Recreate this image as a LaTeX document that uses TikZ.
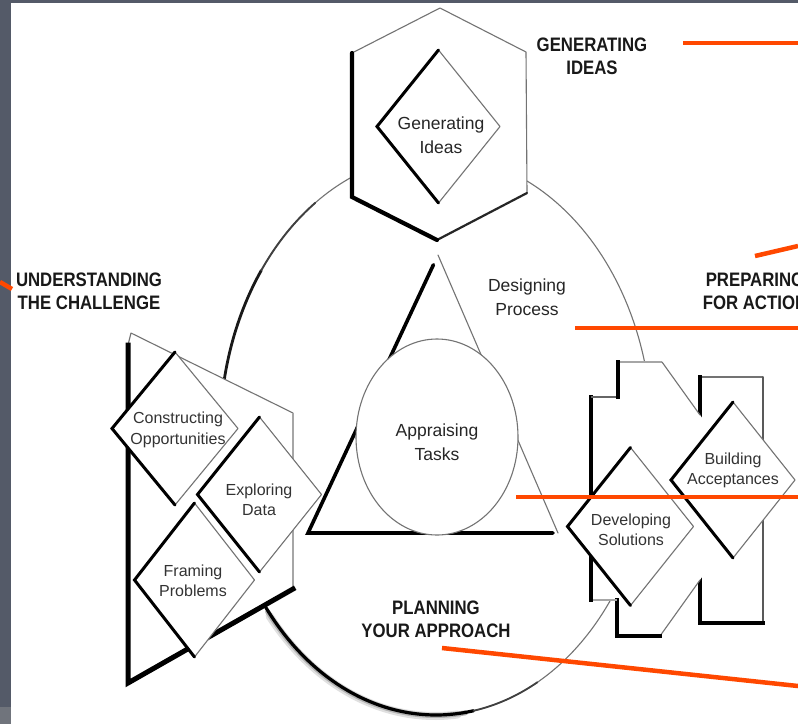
\documentclass[tikz,border=0pt]{standalone}
\usepackage{fontspec}
\setmainfont{Liberation Sans}
\newfontfamily\headfont[FakeStretch=0.86]{Liberation Sans}
\usetikzlibrary{shapes.geometric,calc}
\definecolor{framedark}{RGB}{84,90,104}
\definecolor{framelight}{RGB}{112,116,124}
\definecolor{leader}{RGB}{255,72,0}
\begin{document}
\begin{tikzpicture}[x=1pt, y=-1pt,
  thin edge/.style={draw=black!55, line width=1.1pt, line cap=round, line join=round},
  pale edge/.style={draw=black!35, line width=2pt},
  mid edge/.style={draw=black!85, line width=2.2pt, line cap=round},
  heavy edge/.style={draw=black, line width=3pt, line cap=round, line join=miter},
  shadow edge/.style={draw=black, line width=4.5pt, line cap=rect, line join=miter},
  facet/.style={diamond, fill=white, thin edge, minimum width=#1, minimum height=154pt, inner sep=0pt, outer sep=0pt},
  facet/.default=125pt,
  lobe/.style={ellipse, fill=white, thin edge, inner sep=0pt, outer sep=0pt},
  tag/.style={font=\fontsize{16}{20.5}\selectfont, text=black!80, align=center, inner sep=0pt},
  bigtag/.style={font=\fontsize{17.5}{23.5}\selectfont, text=black!85, align=center, inner sep=0pt},
  stage/.style={font=\headfont\bfseries\fontsize{19.5}{23}\selectfont, text=black!90, align=center, inner sep=0pt},
  leader line/.style={draw=leader, line width=4.5pt},
]
\useasboundingbox (0,0) rectangle (798,724);
\begin{scope}
\clip (0,0) rectangle (798,724);
% page and frame
\fill[white] (0,0) rectangle (798,724);
\fill[framedark] (0,0) rectangle (11,707);
\fill[framelight] (0,707) rectangle (11,724);
\fill[framedark] (0,0) rectangle (798,2.5);

% the outer cycle
\coordinate (oc) at (436,435);
\draw[thin edge] (oc) ellipse [x radius=216pt, y radius=280pt];
\draw[black!12, line width=8pt, line cap=round] plot[domain=84:140, samples=40, smooth] ({435+216*cos(\x)},{436+280*sin(\x)});
\draw[black!30, line width=5pt, line cap=round] plot[domain=82:141, samples=40, smooth] ({435.5+216*cos(\x)},{435.5+280*sin(\x)});
\draw[black, line width=3.2pt, line cap=round] plot[domain=80:143, samples=40, smooth] ({436+216*cos(\x)},{435+280*sin(\x)});
\draw[black!75, line width=1.8pt, line cap=round] plot[domain=62:80, samples=20, smooth] ({436+216*cos(\x)},{435+280*sin(\x)});
\draw[black!90, line width=2.8pt, line cap=round] plot[domain=190:216, samples=20, smooth] ({436+216*cos(\x)},{435+280*sin(\x)});
\draw[black!75, line width=1.9pt, line cap=round] plot[domain=216:236, samples=20, smooth] ({436+216*cos(\x)},{435+280*sin(\x)});

% hexagon: generating ideas
\coordinate (h1) at (440,8);
\coordinate (h2) at (526,52);
\coordinate (h3) at (527,193);
\coordinate (h4) at (437,240);
\coordinate (h5) at (352,197);
\coordinate (h6) at (352,53);
\fill[white] (h1) -- (h2) -- (h3) -- (h4) -- (h5) -- (h6) -- cycle;
\draw[thin edge] (h6) -- (h1) -- (h2) -- (h3);
\draw[mid edge] (h3) -- (h4);
\draw[heavy edge, line width=4.2pt] (h4) -- (h5) -- (h6);
\node[facet=123pt, minimum height=153pt] (gi) at (438.5,126.5) {};
\draw[heavy edge] (gi.north) -- (gi.west) -- (gi.south);

% triangle and circle: designing process, appraising tasks
\coordinate (t1) at (438,255);
\coordinate (t2) at (558,533);
\coordinate (t3) at (308,533);
\coordinate (t1a) at ($(t1)!0.035!(t3)$);
\coordinate (t2a) at (553,533);
\draw[thin edge] (t1) -- (t2);
\draw[heavy edge, line width=3.6pt] (t1a) -- (t3) -- (t2a);
\node[lobe, minimum width=162pt, minimum height=196pt] (ap) at (437,437) {};

% left cluster: understanding the challenge
\coordinate (k1) at (131,333);
\coordinate (k2) at (293,413);
\coordinate (k3) at (293,589);
\coordinate (k4) at (128,683);
\coordinate (k5) at (128,345);
\fill[white] (k1) -- (k2) -- (k3) -- (k4) -- (k5) -- cycle;
\draw[thin edge] (k5) -- (k1) -- (k2);
\draw[pale edge, line width=1.6pt] (k2) -- (k3);
\draw[shadow edge, line width=5pt] (k3) -- (k4) -- (k5);
\node[facet=126pt, minimum height=153pt] (co) at (175,428.5) {};
\draw[heavy edge] (co.north) -- (co.west) -- (co.south);
\node[facet=124pt, minimum height=155pt] (ex) at (259.5,494.5) {};
\draw[heavy edge] (ex.north) -- (ex.west) -- (ex.south);
\node[facet=120pt, minimum height=154pt] (fr) at (194.5,580) {};
\draw[heavy edge] (fr.north) -- (fr.west) -- (fr.south);

% right cluster: preparing for action
\coordinate (r1) at (700,377);
\coordinate (r2) at (763,377);
\coordinate (r3) at (763,623);
\coordinate (r4) at (700,623);
\fill[white] (r1) rectangle (r3);
\draw[pale edge, draw=black!55] (r1) -- (r2);
\draw[thin edge, draw=black!65, line width=1.6pt] (r2) -- (r3);
\draw[shadow edge] (r3) -- (r4) -- (r1);
\coordinate (l1) at (618,362);
\coordinate (l2) at (662,362);
\coordinate (l3) at (759,497);
\coordinate (l4) at (660,636);
\coordinate (l5) at (617,636);
\coordinate (l6) at (617,600);
\coordinate (l7) at (591,600);
\coordinate (l8) at (591,397);
\coordinate (l9) at (618,397);
\coordinate (l2b) at (700,415);
\coordinate (l4b) at (700,580);
\fill[white] (l1) -- (l2) -- (l3) -- (l4) -- (l5) -- (l6) -- (l7) -- (l8) -- (l9) -- cycle;
\draw[pale edge] (l1) -- (l2);
\draw[thin edge] (l2) -- (l2b);
\draw[thin edge] (l4b) -- (l4);
\draw[shadow edge] (l4) -- (l5) -- (l6);
\draw[pale edge] (l6) -- (l7);
\draw[shadow edge] (l7) -- (l8);
\draw[pale edge, draw=black!60] (l8) -- (l9);
\draw[shadow edge] (l9) -- (l1);
\node[facet=126pt, minimum height=158pt] (ds) at (630.5,526.5) {};
\draw[heavy edge] (ds.north) -- (ds.west) -- (ds.south);
\node[facet=124pt, minimum height=156pt] (ba) at (733,480) {};
\draw[heavy edge] (ba.north) -- (ba.west) -- (ba.south);

% labels inside the shapes
\node[bigtag] (gil) at (441,135) {Generating\\Ideas};
\node[bigtag] (dpl) at (527,297) {Designing\\Process};
\node[bigtag] (apl) at (437,442) {Appraising\\Tasks};
\node[tag] (col) at (178,430) {Constructing\\Opportunities};
\node[tag] (exl) at (259,500) {Exploring\\Data};
\node[tag] (frl) at (193,581) {Framing\\Problems};
\node[tag] (dsl) at (631,530) {Developing\\Solutions};
\node[tag] (bal) at (733,470.5) {Building\\Acceptances};

% stage headings
\node[stage] (sgen) at (592,56.5) {GENERATING\\IDEAS};
\node[stage] (sund) at (89,291.5) {UNDERSTANDING\\THE CHALLENGE};
\node[stage] (sprep) at (755,291.5) {PREPARING\\FOR ACTION};
\node[stage] (splan) at (436,619.5) {PLANNING\\YOUR APPROACH};

% leader lines
\coordinate (a1) at (683,43);   \coordinate (a2) at (798,43);
\coordinate (b1) at (755,256);  \coordinate (b2) at (798,246);
\coordinate (c1) at (575,328);  \coordinate (c2) at (798,328);
\coordinate (d1) at (516,497);  \coordinate (d2) at (798,497);
\coordinate (e1) at (442,648);  \coordinate (e2) at (798,686);
\coordinate (f1) at (0,282);    \coordinate (f2) at (12,289);
\draw[leader line] (a1) -- (a2);
\draw[leader line] (b1) -- (b2);
\draw[leader line] (c1) -- (c2);
\draw[leader line] (d1) -- (d2);
\draw[leader line] (e1) -- (e2);
\draw[leader line] (f1) -- (f2);
\end{scope}
\end{tikzpicture}
\end{document}
